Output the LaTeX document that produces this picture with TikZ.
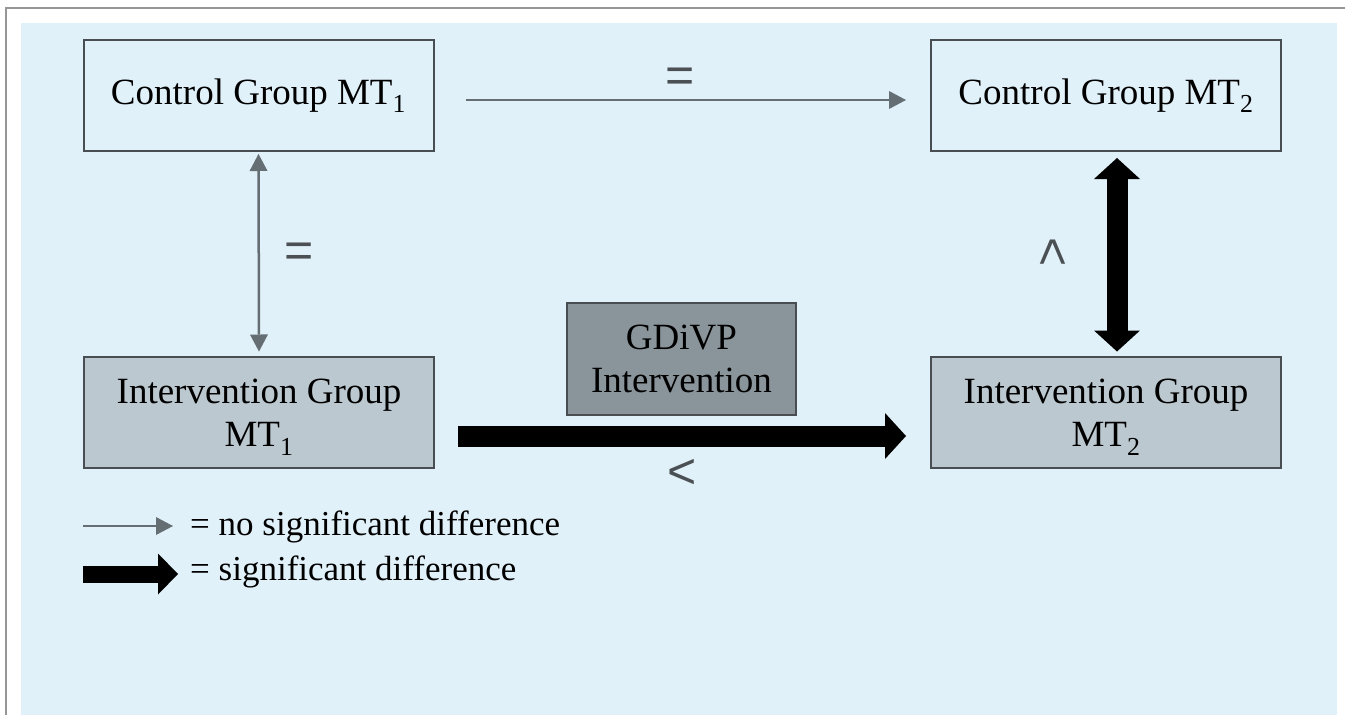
\documentclass[tikz,border=0pt]{standalone}
\usepackage{fontspec}
\setmainfont{Liberation Serif}
\newfontfamily\signfont{Liberation Sans}
\usetikzlibrary{positioning,arrows.meta}
\definecolor{bgblue}{RGB}{225,241,249}
\definecolor{framegray}{RGB}{150,150,150}
\definecolor{boxline}{RGB}{72,78,82}
\definecolor{ifill}{RGB}{188,200,207}
\definecolor{gfill}{RGB}{138,149,155}
\definecolor{arrgray}{RGB}{100,110,115}
\definecolor{signgray}{RGB}{75,80,84}
\newcommand{\toppad}{\rule{0pt}{35pt}}

\begin{document}
\begin{tikzpicture}[x=1pt,y=-1pt,
    box/.style={draw=boxline,line width=2pt,minimum width=350pt,minimum height=111pt,inner sep=0pt,align=center,font=\fontsize{37}{43}\selectfont},
    ibox/.style={box,fill=ifill},
    gbox/.style={box,fill=gfill,minimum width=229pt,minimum height=112pt},
    ns/.style={arrgray,line width=2.5pt,>={Triangle[length=17pt,width=18pt,line width=0pt]}},
    sig/.style={black,line width=21pt,>={Triangle[length=21pt,width=46pt,line width=0pt]}},
    sign/.style={text=signgray,inner sep=0pt,font=\signfont\fontsize{50}{50}\selectfont},
    legend/.style={anchor=base west,inner sep=0pt,font=\fontsize{35}{40}\selectfont}]
  \useasboundingbox (0,0) rectangle (1345,715);
  \fill[bgblue] (21,23) rectangle (1337,715);
  \draw[framegray,line width=1.5pt] (6,715) -- (6,8) -- (1345,8);

  % groups
  \node[box] (cg1) at (258.5,95.5) {Control Group MT\textsubscript{1}};
  \node[box] (cg2) at (1106,95.5) {Control Group MT\textsubscript{2}};
  \node[ibox] (ig1) at (259,412) {\toppad Intervention Group\\MT\textsubscript{1}};
  \node[ibox] (ig2) at (1106,412) {\toppad Intervention Group\\MT\textsubscript{2}};
  \node[gbox] (gd) at (681.5,359) {GDiVP\\Intervention};

  % comparisons
  \draw[ns,->,shorten <=31pt,shorten >=24pt] ([yshift=-4.5pt]cg1.east) -- ([yshift=-4.5pt]cg2.west);
  \draw[ns,<->,shorten <=2pt,shorten >=4pt] (cg1.south) -- (ig1.north);
  \draw[sig,->,shorten <=23pt,shorten >=24pt] ([yshift=-24pt]ig1.east) -- ([yshift=-24pt]ig2.west);
  \draw[sig,<->,shorten <=6pt,shorten >=4pt] ([xshift=11pt]cg2.south) -- ([xshift=11pt]ig2.north);

  \node[sign] (eqa) at (680,80.5) {=};
  \node[sign] (eqb) at (299,255.5) {=};
  \node[sign] (lt) at (682,474) {<};
  \node[sign,rotate=-90] (gt) at (1051,252) {<};

  % legend
  \coordinate (la) at (83,526);
  \coordinate (lb) at (173,526);
  \coordinate (lc) at (83,574);
  \coordinate (ld) at (178,574);
  \draw[ns,->,line width=2pt] (la) -- (lb);
  \draw[sig,->,line width=17pt,>={Triangle[length=20pt,width=41pt,line width=0pt]}] (lc) -- (ld);
  \node[legend] (lna) at (190,535) {= no significant difference};
  \node[legend] (lnb) at (190,580) {= significant difference};
\end{tikzpicture}
\end{document}
